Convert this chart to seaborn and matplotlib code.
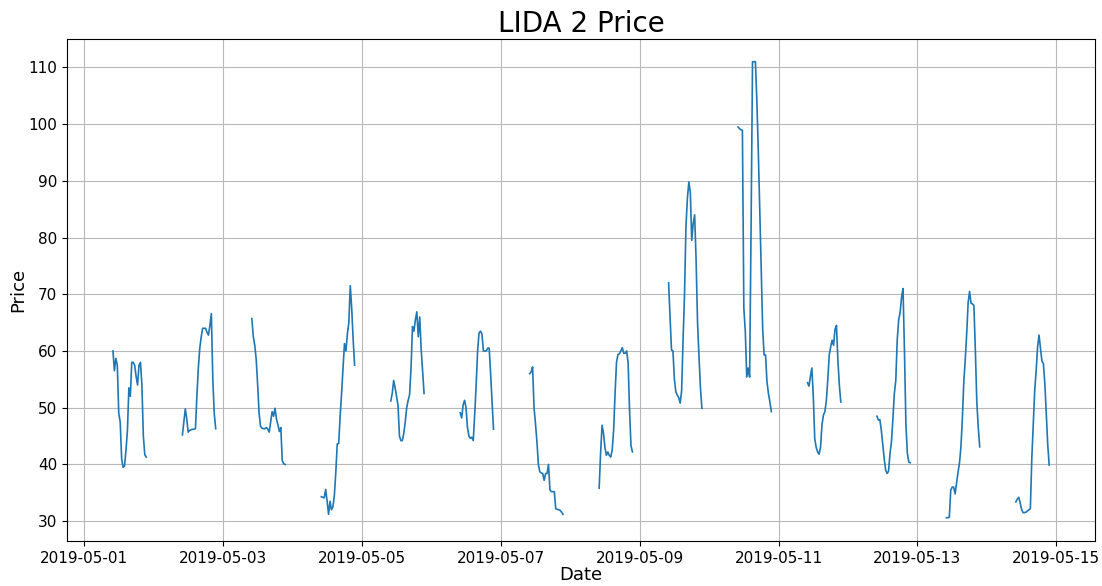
import numpy as np
import pandas as pd
import matplotlib
matplotlib.use("Agg")
import matplotlib.pyplot as plt
import matplotlib.dates as mdates
import seaborn as sns

# Half-hourly prices, 10:00-21:30 each trading day
start_date = "2019-05-01"
day_open = "10:00"
p_0501 = [60, 56.5, 58.7, 57.5, 49, 47.5, 41, 39.5, 39.7, 42.5, 46, 53.5, 52, 58, 58, 57.5, 55.5, 54, 57.5, 58, 54, 45, 41.7, 41.3]
p_0502 = [45.2, 47.5, 49.8, 48, 45.7, 46, 46.1, 46.2, 46.2, 46.3, 52, 57, 60.5, 62.5, 64, 64, 64, 63.3, 62.8, 64.5, 66.6, 55, 49, 46.3]
p_0503 = [65.7, 62.5, 61, 58.5, 54, 49, 46.7, 46.4, 46.3, 46.3, 46.5, 46.2, 45.7, 47.5, 49.3, 48.5, 49.9, 48, 47, 45.8, 46.5, 40.7, 40.1, 40]
p_0504 = [34.3, 34.2, 34.1, 35.6, 33.5, 31.2, 33.5, 32, 32.5, 34.5, 38.6, 43.6, 43.7, 48.5, 52.5, 57, 61.3, 60, 63, 65, 71.5, 67.5, 62, 57.5]
p_0505 = [51.2, 52.5, 54.8, 53.5, 52, 50.4, 45, 44.2, 44.2, 45.5, 47.5, 50, 51.3, 52.3, 57, 64.3, 63.5, 65.5, 66.9, 62.5, 66, 60.3, 56.5, 52.5]
p_0506 = [49.1, 48.2, 50.5, 51.3, 50, 46.5, 45, 44.6, 44.8, 44.2, 48.8, 54, 60, 63.2, 63.5, 63, 60, 60, 60, 60.5, 60.5, 56, 51, 46.2]
p_0507 = [56, 56.3, 57.2, 50, 47.2, 44, 40, 38.7, 38.5, 38.4, 37.2, 38.4, 38.4, 40, 35.5, 35.2, 35.2, 35.2, 32.2, 32.1, 32, 31.9, 31.6, 31.2]
p_0508 = [35.8, 42, 46.9, 45.5, 43, 41.6, 42.2, 41.6, 41.3, 42.5, 46, 52.5, 58, 59.4, 59.5, 60, 60.6, 59.6, 59.6, 60, 58, 49.6, 43.3, 42.2]
p_0509 = [72, 66, 60.2, 60, 55, 52.8, 52.2, 51.8, 50.8, 53, 62, 70, 82, 87, 89.8, 88, 79.5, 82.5, 84, 76, 65, 59, 53.5, 49.9]
p_0510 = [99.5, 99.2, 99, 98.9, 67.5, 63.5, 55.4, 57, 55.4, 82, 111, 111, 111, 104, 95.1, 84.8, 74.5, 64, 59.3, 59.3, 54.5, 52.5, 51, 49.3]
p_0511 = [54.4, 53.8, 55.5, 57, 52, 44.5, 43, 42.2, 41.8, 43, 47, 48.7, 49.3, 51.2, 54.9, 59.3, 60.7, 61.9, 61, 63.8, 64.5, 58.3, 54, 51]
p_0512 = [48.5, 47.8, 47.9, 46, 43.5, 41, 39, 38.4, 38.8, 41.9, 44, 48, 52.5, 54.8, 62, 65.5, 66.8, 69.5, 71, 60, 47, 42, 40.4, 40.3]
p_0513 = [30.6, 30.6, 30.7, 35.5, 36, 36, 34.8, 36.7, 38.6, 40.2, 43, 48, 54.5, 58.5, 63, 68.5, 70.5, 68.4, 68.3, 68, 60, 51, 46.5, 43.1]
p_0514 = [33.4, 33.9, 34.2, 33.2, 32, 31.5, 31.5, 31.6, 31.8, 32, 32.2, 41, 47, 53, 56.5, 60.7, 62.8, 60.5, 58.2, 57.8, 54.3, 49, 43.5, 39.9]

days = [p_0501, p_0502, p_0503, p_0504, p_0505, p_0506, p_0507,
        p_0508, p_0509, p_0510, p_0511, p_0512, p_0513, p_0514]

frames = []
base = pd.Timestamp(start_date + " " + day_open)
for d, vals in enumerate(days):
    t0 = base + pd.Timedelta(days=d)
    times = pd.date_range(t0, periods=len(vals), freq="30min")
    frames.append(pd.DataFrame({"Date": times, "Price": vals, "day": d}))
df = pd.concat(frames, ignore_index=True)

fig = plt.figure(figsize=(11.02, 5.86), dpi=100)
ax = fig.add_axes([0.0608, 0.0768, 0.9328, 0.8566])
sns.lineplot(data=df, x="Date", y="Price", units="day", estimator=None,
             color="#1f77b4", linewidth=1.2, ax=ax, legend=False)

ax.grid(True, color="#b8b8b8", linewidth=0.8)
ax.set_axisbelow(True)
x0 = pd.Timestamp(start_date)
ax.set_xlim(x0 - pd.Timedelta(days=0.245), x0 + pd.Timedelta(days=14.555))
ax.set_ylim(26.5, 115)
ax.set_yticks(np.arange(30, 111, 10))
ax.xaxis.set_major_locator(mdates.DayLocator(interval=2))
ax.xaxis.set_major_formatter(mdates.DateFormatter("%Y-%m-%d"))
ax.tick_params(labelsize=11)
ax.set_title("LIDA 2 Price", fontsize=20, pad=5)
ax.set_xlabel("Date", fontsize=13, labelpad=0)
ax.set_ylabel("Price", fontsize=13, labelpad=1)

fig.savefig("out.png", dpi=100)
